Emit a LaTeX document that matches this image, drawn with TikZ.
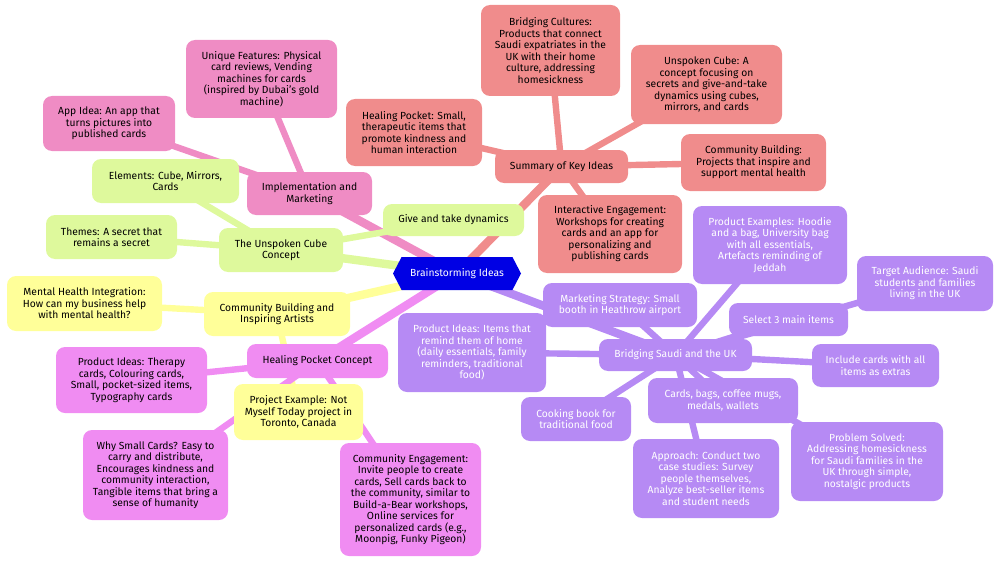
\documentclass[tikz,border=0pt]{standalone}
\usepackage{fontspec}
\setmainfont{Fira Sans}
\usetikzlibrary{shapes.symbols,backgrounds}

\definecolor{rootblue}{HTML}{0000E4}
\definecolor{sumred}{HTML}{F08C8C}
\definecolor{implpink}{HTML}{EF8CC4}
\definecolor{cubelime}{HTML}{DEF99C}
\definecolor{commyellow}{HTML}{FFFF99}
\definecolor{healviolet}{HTML}{F08CF2}
\definecolor{bridgepurple}{HTML}{B68AF4}

\begin{document}
\begin{tikzpicture}[x=1pt,y=-1pt,
    font=\fontsize{10.3}{11.5}\selectfont,
    box size/.style 2 args={minimum width=#1pt,minimum height=#2pt},
    main node/.style={rounded corners=9pt,align=center,inner sep=0pt},
    root node/.style={signal,signal to=east and west,signal pointer angle=125,
        fill=rootblue,text=white,align=center,inner sep=0pt},
    sum node/.style={main node,fill=sumred},
    impl node/.style={main node,fill=implpink},
    cube node/.style={main node,fill=cubelime},
    comm node/.style={main node,fill=commyellow},
    heal node/.style={main node,fill=healviolet},
    bridge node/.style={main node,fill=bridgepurple,text=white},
    trunk/.style={line width=8.4pt},
    twig/.style={line width=6.4pt}]

        \useasboundingbox (0,0) rectangle (1000,567);

        % Define vertices
        \node[root node,box size={128}{33}] (0) at (457,273.5) {Brainstorming Ideas};

        \node[sum node,box size={133}{33}] (1) at (561.5,166.5) {Summary of Key Ideas};
        \node[sum node,box size={139}{91}] (11) at (550.5,50.5) {Bridging Cultures:\\Products that connect\\Saudi expatriates in the\\UK with their home\\culture, addressing\\homesickness};
        \node[sum node,box size={151}{79}] (12) at (706.5,84.5) {Unspoken Cube: A\\concept focusing on\\secrets and give-and-take\\dynamics using cubes,\\mirrors, and cards};
        \node[sum node,box size={145}{57}] (13) at (753.5,162.5) {Community Building:\\Projects that inspire and\\support mental health};
        \node[sum node,box size={144}{78}] (14) at (610,234) {Interactive Engagement:\\Workshops for creating\\cards and an app for\\personalizing and\\publishing cards};
        \node[sum node,box size={136}{67}] (15) at (414,132.5) {Healing Pocket: Small,\\therapeutic items that\\promote kindness and\\human interaction};

        \node[impl node,box size={125}{43}] (2) at (309.5,193.5) {Implementation and\\Marketing};
        \node[impl node,box size={151}{78}] (21) at (261.5,79) {Unique Features: Physical\\card reviews, Vending\\machines for cards\\(inspired by Dubai's gold\\machine)};
        \node[impl node,box size={132}{55}] (22) at (109,123.5) {App Idea: An app that\\turns pictures into\\published cards};

        \node[cube node,box size={124}{44}] (3) at (281,250) {The Unspoken Cube\\Concept};
        \node[cube node,box size={147}{44}] (31) at (165.5,181) {Elements: Cube, Mirrors,\\Cards};
        \node[cube node,box size={131}{44}] (32) at (111.5,237) {Themes: A secret that\\remains a secret};
        \node[cube node,box size={141}{32}] (33) at (453.5,220) {Give and take dynamics};

        \node[comm node,box size={146}{44}] (4) at (277,314) {Community Building and\\Inspiring Artists};
        \node[comm node,box size={155}{55}] (41) at (84.5,303.5) {Mental Health Integration:\\How can my business help\\with mental health?};
        \node[comm node,box size={129}{56}] (42) at (298.5,412) {Project Example: Not\\Myself Today project in\\Toronto, Canada};

        \node[heal node,box size={141}{34}] (5) at (317.5,361) {Healing Pocket Concept};
        \node[heal node,box size={151}{66}] (51) at (131.5,380) {Product Ideas: Therapy\\cards, Colouring cards,\\Small, pocket-sized items,\\Typography cards};
        \node[heal node,box size={145}{90}] (52) at (155.5,475) {Why Small Cards? Easy to\\carry and distribute,\\Encourages kindness and\\community interaction,\\Tangible items that bring a\\sense of humanity};
        \node[heal node,box size={141}{113}] (53) at (410.5,499.5) {Community Engagement:\\Invite people to create\\cards, Sell cards back to\\the community, similar to\\Build-a-Bear workshops,\\Online services for\\personalized cards (e.g.,\\Moonpig, Funky Pigeon)};

        \node[bridge node,box size={153}{32}] (6) at (675.5,355) {Bridging Saudi and the UK};
        \node[bridge node,box size={154}{78}] (61) at (770,245) {Product Examples: Hoodie\\and a bag, University bag\\with all essentials,\\Artefacts reminding of\\Jeddah};
        \node[bridge node,box size={136}{55}] (62) at (925,283.5) {Target Audience: Saudi\\students and families\\living in the UK};
        \node[bridge node,box size={119}{33}] (63) at (788.5,319.5) {Select 3 main items};
        \node[bridge node,box size={127}{43}] (64) at (875.5,365.5) {Include cards with all\\items as extras};
        \node[bridge node,box size={154}{44}] (65) at (620,305) {Marketing Strategy: Small\\booth in Heathrow airport};
        \node[bridge node,box size={148}{79}] (66) at (472,352.5) {Product Ideas: Items that\\remind them of home\\(daily essentials, family\\reminders, traditional\\food)};
        \node[bridge node,box size={110}{44}] (67) at (576,419) {Cooking book for\\traditional food};
        \node[bridge node,box size={150}{45}] (68) at (723,400.5) {Cards, bags, coffee mugs,\\medals, wallets};
        \node[bridge node,box size={146}{79}] (69) at (706,478.5) {Approach: Conduct two\\case studies: Survey\\people themselves,\\Analyze best-seller items\\and student needs};
        \node[bridge node,box size={152}{79}] (610) at (867,461.5) {Problem Solved:\\Addressing homesickness\\for Saudi families in the\\UK through simple,\\nostalgic products};

        % Draw edges
        \begin{scope}[on background layer]
        \path[draw=sumred]
            (0.center) edge[trunk] (1.center)
            (1.center) edge[twig] (11.center)
                       edge[twig] (12.center)
                       edge[twig] (13.center)
                       edge[twig] (14.center)
                       edge[twig] (15.center);
        \path[draw=implpink]
            (0.center) edge[trunk] (2.center)
            (2.center) edge[twig] (21.center)
                       edge[twig] (22.center);
        \path[draw=cubelime]
            (0.center) edge[trunk] (3.center)
            (3.center) edge[twig] (31.center)
                       edge[twig] (32.center)
                       edge[twig] (33.center);
        \path[draw=commyellow]
            (0.center) edge[trunk] (4.center)
            (4.center) edge[twig] (41.center)
                       edge[twig] (42.center);
        \path[draw=healviolet]
            (0.center) edge[trunk] (5.center)
            (5.center) edge[twig] (51.center)
                       edge[twig] (52.center)
                       edge[twig] (53.center);
        \path[draw=bridgepurple]
            (0.center) edge[trunk] (6.center)
            (6.center) edge[twig] (61.center)
                       edge[twig] (62.center)
                       edge[twig] (63.center)
                       edge[twig] (64.center)
                       edge[twig] (65.center)
                       edge[twig] (66.center)
                       edge[twig] (67.center)
                       edge[twig] (68.center)
                       edge[twig] (69.center)
                       edge[twig] (610.center);
        \end{scope}

\end{tikzpicture}
\end{document}
